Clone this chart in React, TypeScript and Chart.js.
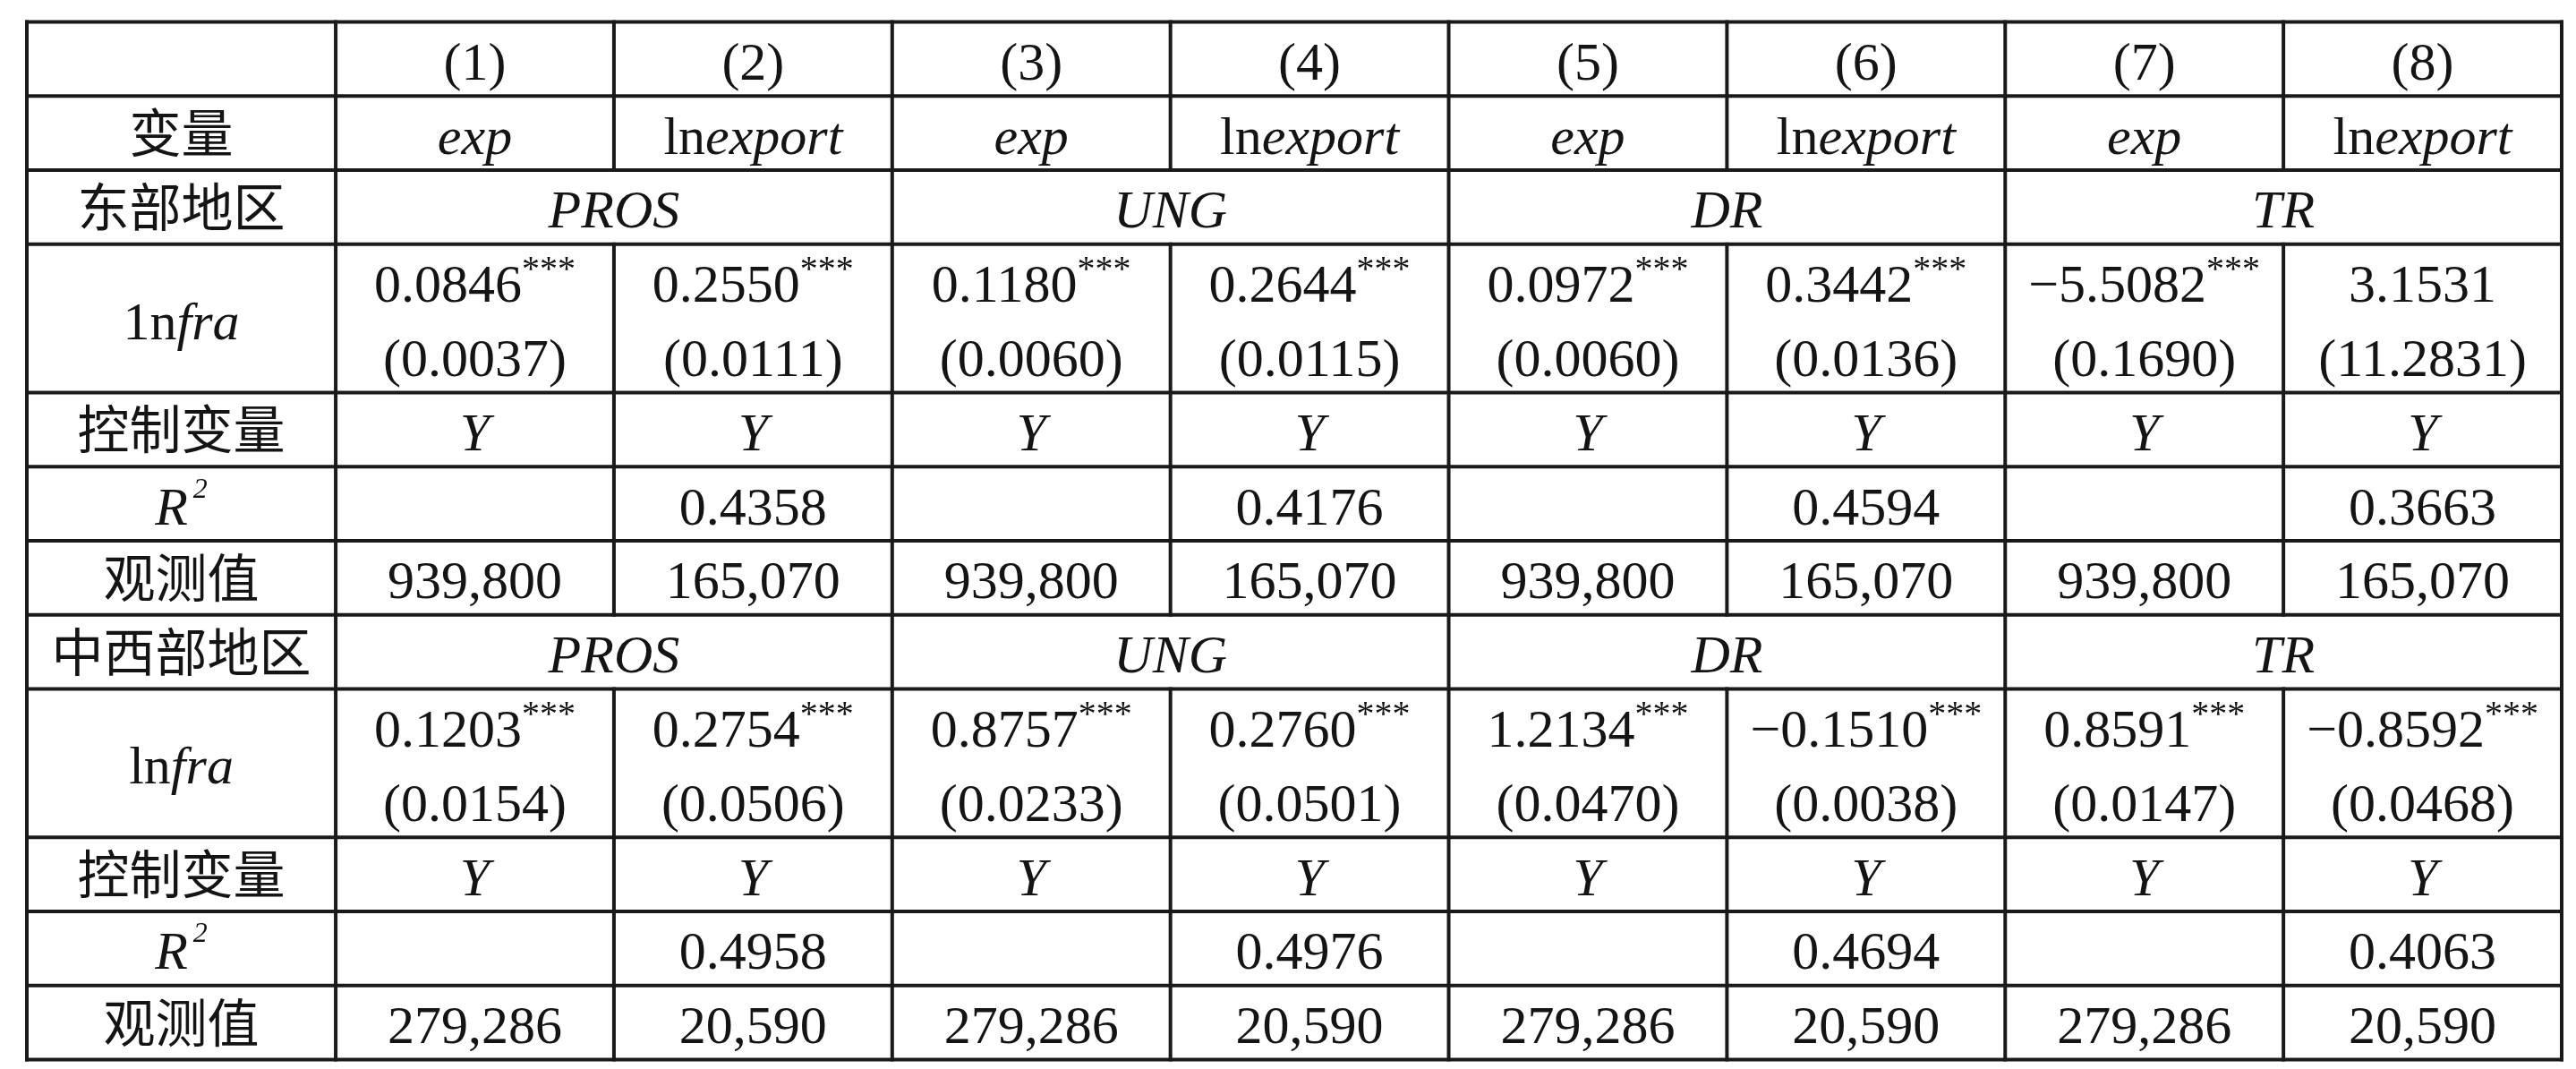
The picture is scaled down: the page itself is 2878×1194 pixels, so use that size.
import React, { useEffect, useRef } from 'react';
import { Chart, registerables } from 'chart.js';

Chart.register(...registerables);

// ---------------- data ----------------
const modelNums = ['(1)', '(2)', '(3)', '(4)', '(5)', '(6)', '(7)', '(8)'];
const depVars = ['exp', 'lnexport', 'exp', 'lnexport', 'exp', 'lnexport', 'exp', 'lnexport'];
const indicators = ['PROS', 'UNG', 'DR', 'TR'];
const regions = ['东部地区', '中西部地区'];
const infraPrefix = ['1n', 'ln'];
const labelVar = '变量';
const labelControls = '控制变量';
const labelObs = '观测值';

const eastCoef = ['0.0846', '0.2550', '0.1180', '0.2644', '0.0972', '0.3442', '\u22125.5082', '3.1531'];
const eastStars = ['***', '***', '***', '***', '***', '***', '***', ''];
const eastSE = ['(0.0037)', '(0.0111)', '(0.0060)', '(0.0115)', '(0.0060)', '(0.0136)', '(0.1690)', '(11.2831)'];
const eastControls = ['Y', 'Y', 'Y', 'Y', 'Y', 'Y', 'Y', 'Y'];
const eastR2 = ['', '0.4358', '', '0.4176', '', '0.4594', '', '0.3663'];
const eastObs = ['939,800', '165,070', '939,800', '165,070', '939,800', '165,070', '939,800', '165,070'];

const westCoef = ['0.1203', '0.2754', '0.8757', '0.2760', '1.2134', '\u22120.1510', '0.8591', '\u22120.8592'];
const westStars = ['***', '***', '***', '***', '***', '***', '***', '***'];
const westSE = ['(0.0154)', '(0.0506)', '(0.0233)', '(0.0501)', '(0.0470)', '(0.0038)', '(0.0147)', '(0.0468)'];
const westControls = ['Y', 'Y', 'Y', 'Y', 'Y', 'Y', 'Y', 'Y'];
const westR2 = ['', '0.4958', '', '0.4976', '', '0.4694', '', '0.4063'];
const westObs = ['279,286', '20,590', '279,286', '20,590', '279,286', '20,590', '279,286', '20,590'];

// ---------------- layout ----------------
const W = 2862;
const H = 1178;
const COL0 = 1.11; // width of first column in column units
const NCOLS = 8;
const XMAX = COL0 + NCOLS;
const ROW_SPANS = [1, 1, 1, 2, 1, 1, 1, 1, 2, 1, 1, 1];
const YMAX = ROW_SPANS.reduce((a, b) => a + b, 0);
const REGION_ROWS = [2, 7];

const LATIN = '"Liberation Serif", "Times New Roman", serif';
const CJK = '"Noto Sans CJK SC", "Noto Sans CJK JP", sans-serif';
const FS = 60;
const CJK_FS = 58;
const INK = '#141414';
const LINE = '#1a1a1a';

type Run = { t: string; i?: boolean; sup?: 'star' | 'r2'; cjk?: boolean };
type Cell = { x: number; y: number; runs: Run[] };

const rowTop = (r: number) => ROW_SPANS.slice(0, r).reduce((a, b) => a + b, 0);
const colCenter = (k: number) => (k === 0 ? COL0 / 2 : COL0 + (k - 1) + 0.5);

const depRuns = (v: string): Run[] =>
  v.startsWith('ln') ? [{ t: 'ln' }, { t: v.slice(2), i: true }] : [{ t: v, i: true }];

function buildCells(): Cell[] {
  const cells: Cell[] = [];
  const add = (x: number, y: number, runs: Run[]) => cells.push({ x, y, runs });
  modelNums.forEach((m, k) => add(colCenter(k + 1), 0.5, [{ t: m }]));
  add(colCenter(0), 1.5, [{ t: labelVar, cjk: true }]);
  depVars.forEach((v, k) => add(colCenter(k + 1), 1.5, depRuns(v)));

  const blocks = [
    { coef: eastCoef, stars: eastStars, se: eastSE, ctl: eastControls, r2: eastR2, obs: eastObs },
    { coef: westCoef, stars: westStars, se: westSE, ctl: westControls, r2: westR2, obs: westObs },
  ];
  blocks.forEach((b, bi) => {
    const r0 = REGION_ROWS[bi];
    const yReg = rowTop(r0) + 0.5;
    add(colCenter(0), yReg, [{ t: regions[bi], cjk: true }]);
    indicators.forEach((ind, j) => add(COL0 + 2 * j + 1, yReg, [{ t: ind, i: true }]));
    const yCoefTop = rowTop(r0 + 1);
    add(colCenter(0), yCoefTop + 1, [{ t: infraPrefix[bi] }, { t: 'fra', i: true }]);
    b.coef.forEach((c, k) => {
      const runs: Run[] = [{ t: c }];
      if (b.stars[k]) runs.push({ t: b.stars[k], sup: 'star' });
      add(colCenter(k + 1), yCoefTop + 0.5, runs);
    });
    b.se.forEach((s, k) => add(colCenter(k + 1), yCoefTop + 1.5, [{ t: s }]));
    const yCtl = rowTop(r0 + 2) + 0.5;
    add(colCenter(0), yCtl, [{ t: labelControls, cjk: true }]);
    b.ctl.forEach((s, k) => add(colCenter(k + 1), yCtl, [{ t: s, i: true }]));
    const yR2 = rowTop(r0 + 3) + 0.5;
    add(colCenter(0), yR2, [{ t: 'R', i: true }, { t: '2', sup: 'r2', i: true }]);
    b.r2.forEach((s, k) => { if (s) add(colCenter(k + 1), yR2, [{ t: s }]); });
    const yObs = rowTop(r0 + 4) + 0.5;
    add(colCenter(0), yObs, [{ t: labelObs, cjk: true }]);
    b.obs.forEach((s, k) => add(colCenter(k + 1), yObs, [{ t: s }]));
  });
  return cells;
}

const cells = buildCells();

function runFont(r: Run): string {
  if (r.cjk) return `${CJK_FS}px ${CJK}`;
  const size = r.sup === 'star' ? 40 : r.sup === 'r2' ? 32 : FS;
  return `${r.i ? 'italic ' : ''}${size}px ${LATIN}`;
}

const gridPlugin = {
  id: 'tableGrid',
  beforeDatasetsDraw(chart: any) {
    const { ctx, scales } = chart;
    const xs = scales.x;
    const ys = scales.y;
    ctx.save();
    ctx.strokeStyle = LINE;
    ctx.lineWidth = 4;
    ctx.lineCap = 'square';
    const hb: number[] = [0];
    ROW_SPANS.forEach((s, i) => hb.push(hb[i] + s));
    hb.forEach((yv) => {
      const py = ys.getPixelForValue(yv);
      ctx.beginPath();
      ctx.moveTo(xs.getPixelForValue(0), py);
      ctx.lineTo(xs.getPixelForValue(XMAX), py);
      ctx.stroke();
    });
    const edges: number[] = [0, COL0];
    for (let k = 1; k <= NCOLS; k++) edges.push(COL0 + k);
    edges.forEach((xv, ei) => {
      const px = xs.getPixelForValue(xv);
      const inPair = ei >= 2 && ei <= NCOLS && ei % 2 === 0;
      const segs: [number, number][] = [];
      if (!inPair) segs.push([0, YMAX]);
      else {
        let start = 0;
        REGION_ROWS.forEach((r) => {
          segs.push([start, rowTop(r)]);
          start = rowTop(r) + ROW_SPANS[r];
        });
        segs.push([start, YMAX]);
      }
      segs.forEach(([a, b]) => {
        ctx.beginPath();
        ctx.moveTo(px, ys.getPixelForValue(a));
        ctx.lineTo(px, ys.getPixelForValue(b));
        ctx.stroke();
      });
    });
    ctx.restore();
  },
};

const textPlugin = {
  id: 'tableText',
  afterDatasetsDraw(chart: any) {
    const { ctx } = chart;
    const meta = chart.getDatasetMeta(0);
    const data = chart.data.datasets[0].data as Cell[];
    ctx.save();
    ctx.fillStyle = INK;
    ctx.textAlign = 'left';
    ctx.textBaseline = 'alphabetic';
    meta.data.forEach((el: any, idx: number) => {
      const cell = data[idx];
      const runs = cell.runs;
      const widths = runs.map((r) => {
        ctx.font = runFont(r);
        const gap = r.sup === 'r2' ? 6 : 0;
        return ctx.measureText(r.t).width + gap;
      });
      const total = widths.reduce((a, b) => a + b, 0);
      let x = el.x - total / 2;
      const isCjk = runs.length === 1 && runs[0].cjk;
      const baseline = isCjk ? el.y + 0.37 * CJK_FS : el.y + 23;
      runs.forEach((r, ri) => {
        ctx.font = runFont(r);
        let y = baseline;
        let dx = 0;
        if (r.sup === 'star') y = baseline - 24;
        if (r.sup === 'r2') { y = baseline - 30; dx = 6; }
        ctx.fillText(r.t, x + dx, y);
        x += widths[ri];
      });
    });
    ctx.restore();
  },
};

export default function App() {
  const ref = useRef<HTMLCanvasElement>(null);
  useEffect(() => {
    if (!ref.current) return;
    const chart = new Chart(ref.current, {
      type: 'scatter',
      data: {
        datasets: [
          {
            label: 'cells',
            data: cells as any,
            pointRadius: 0,
            pointHoverRadius: 0,
            pointHitRadius: 0,
          },
        ],
      },
      options: {
        animation: false,
        responsive: false,
        events: [],
        layout: { padding: { left: 22, top: 16.5, right: 8, bottom: 2.5 } },
        scales: {
          x: { type: 'linear', min: 0, max: XMAX, display: false },
          y: { type: 'linear', min: 0, max: YMAX, reverse: true, display: false },
        },
        plugins: { legend: { display: false }, tooltip: { enabled: false } },
      },
      plugins: [gridPlugin, textPlugin],
    });
    return () => chart.destroy();
  }, []);
  return (
    <div style={{ width: W, height: H, background: '#fff' }}>
      <canvas ref={ref} width={W} height={H} style={{ display: 'block', width: W, height: H }} />
    </div>
  );
}
